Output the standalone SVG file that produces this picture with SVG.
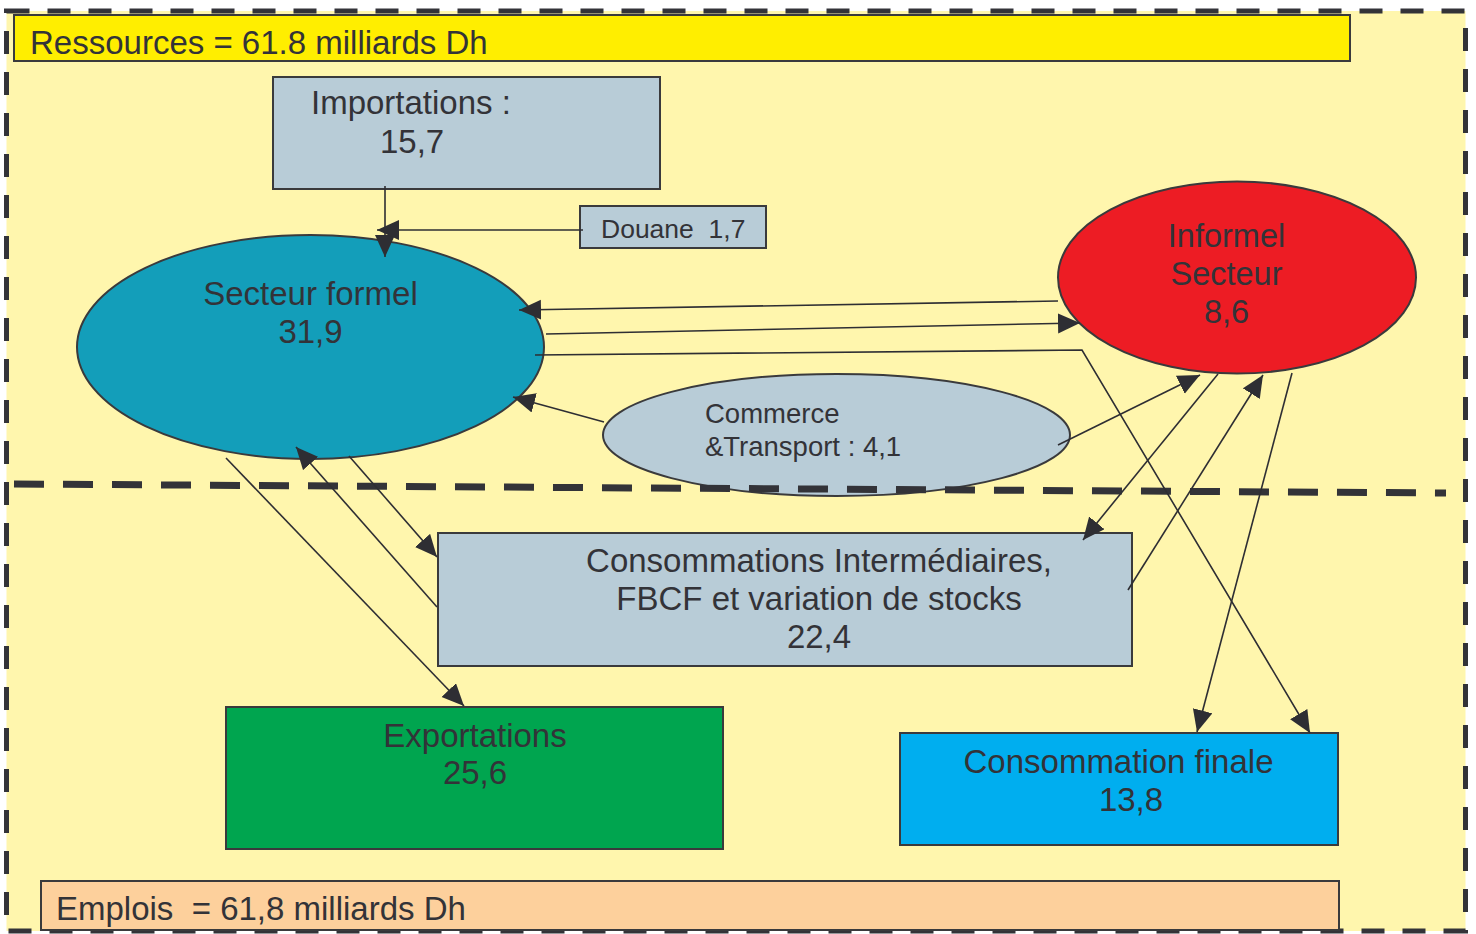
<svg xmlns="http://www.w3.org/2000/svg" width="1476" height="934" viewBox="0 0 1476 934">
<style>
text{font-family:"Liberation Sans",Arial,sans-serif;fill:#333338;white-space:pre}
.box{stroke:#3a3a3c;stroke-width:2}
.c{text-anchor:middle}
.ln{fill:none;stroke:#2e2e33;stroke-width:1.6}
</style>
<defs>
<marker id="ah" markerUnits="userSpaceOnUse" markerWidth="23" markerHeight="21" refX="22" refY="10" orient="auto">
<path d="M0,0 L22,10 L0,20 z" fill="#2e2e33"/>
</marker>
</defs>
<rect x="0" y="0" width="1476" height="934" fill="#ffffff"/>
<rect id="frame" x="6.5" y="11" width="1459" height="920" fill="#fff6ad" stroke="#333338" stroke-width="5" stroke-dasharray="23 18"/>

<g id="ressources">
<rect class="box" x="14" y="15" width="1336" height="46" fill="#ffee00"/>
<text x="30" y="54" font-size="33">Ressources = 61.8 milliards Dh</text>
</g>
<g id="importations">
<rect class="box" x="273" y="77" width="387" height="112" fill="#b8ccd7"/>
<text x="311" y="114" font-size="33">Importations :</text>
<text x="380" y="153" font-size="33">15,7</text>
</g>
<g id="douane">
<rect class="box" x="580" y="206" width="186" height="42" fill="#b8ccd7"/>
<text x="601" y="238" font-size="26.5">Douane  1,7</text>
</g>
<g id="secteur-formel">
<ellipse class="box" cx="310.5" cy="347" rx="233.5" ry="112" fill="#139eba"/>
<text class="c" x="310.5" y="305" font-size="33">Secteur formel</text>
<text class="c" x="310.5" y="343" font-size="33">31,9</text>
</g>
<g id="informel">
<ellipse class="box" cx="1237" cy="277.5" rx="179" ry="96" fill="#ed1c24"/>
<text class="c" x="1226.5" y="247" font-size="32.5">Informel</text>
<text class="c" x="1226.5" y="285" font-size="32.5">Secteur</text>
<text class="c" x="1226.5" y="323" font-size="32.5">8,6</text>
</g>
<g id="commerce">
<ellipse class="box" cx="836.5" cy="435" rx="233.5" ry="61" fill="#b8ccd7"/>
<text x="705" y="423" font-size="27.5">Commerce</text>
<text x="705" y="456" font-size="27.5">&amp;Transport : 4,1</text>
</g>
<g id="ci">
<rect class="box" x="438" y="533" width="694" height="133" fill="#b8ccd7"/>
<text class="c" x="819" y="572" font-size="33">Consommations Intermédiaires,</text>
<text class="c" x="819" y="610" font-size="33">FBCF et variation de stocks</text>
<text class="c" x="819" y="648" font-size="33">22,4</text>
</g>
<g id="exportations">
<rect class="box" x="226" y="707" width="497" height="142" fill="#00a54f"/>
<text class="c" x="475" y="747" font-size="33">Exportations</text>
<text class="c" x="475" y="784" font-size="33">25,6</text>
</g>
<g id="consommation-finale">
<rect class="box" x="900" y="733" width="438" height="112" fill="#00aeef"/>
<text class="c" x="1118.5" y="773" font-size="33">Consommation finale</text>
<text class="c" x="1131" y="811" font-size="33">13,8</text>
</g>
<g id="emplois">
<rect class="box" x="41" y="881" width="1298" height="49" fill="#fdd09c"/>
<text x="56" y="920" font-size="33">Emplois  = 61,8 milliards Dh</text>
</g>

<line id="separator" x1="14" y1="484" x2="1446" y2="493" stroke="#333338" stroke-width="7" stroke-dasharray="30 19"/>

<g id="connectors">
<line class="ln" x1="385" y1="186" x2="385" y2="257" marker-end="url(#ah)"/>
<line class="ln" x1="583" y1="230" x2="377" y2="230" marker-end="url(#ah)"/>
<line class="ln" x1="1058" y1="301" x2="519" y2="310" marker-end="url(#ah)"/>
<line class="ln" x1="546" y1="334" x2="1080" y2="323" marker-end="url(#ah)"/>
<polyline class="ln" points="535,355 1082,350 1310,733" marker-end="url(#ah)"/>
<line class="ln" x1="604" y1="422" x2="513" y2="397" marker-end="url(#ah)"/>
<line class="ln" x1="1058" y1="445" x2="1200" y2="375" marker-end="url(#ah)"/>
<line class="ln" x1="1218" y1="374" x2="1083" y2="540" marker-end="url(#ah)"/>
<line class="ln" x1="1128" y1="590" x2="1263" y2="375" marker-end="url(#ah)"/>
<line class="ln" x1="1292" y1="373" x2="1197" y2="732" marker-end="url(#ah)"/>
<line class="ln" x1="226" y1="458" x2="464" y2="706" marker-end="url(#ah)"/>
<line class="ln" x1="437" y1="607" x2="296" y2="447" marker-end="url(#ah)"/>
<line class="ln" x1="349" y1="456" x2="437" y2="557" marker-end="url(#ah)"/>
</g>
</svg>
